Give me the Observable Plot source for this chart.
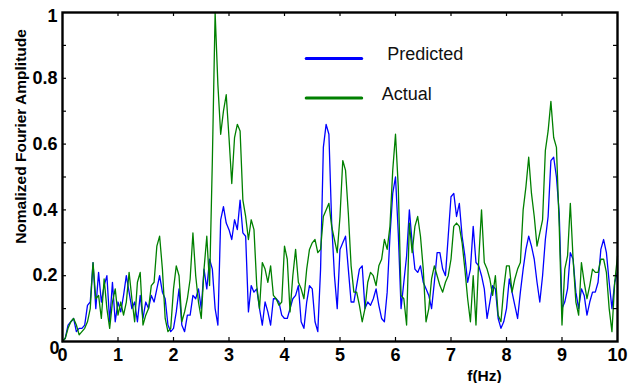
<!DOCTYPE html>
<html>
<head>
<meta charset="utf-8">
<script src="https://cdn.jsdelivr.net/npm/d3@7"></script>
<script src="https://cdn.jsdelivr.net/npm/@observablehq/plot@0.6"></script>
<style>
  html, body { margin: 0; padding: 0; background: #fff; }
  #chart { width: 629px; height: 383px; }
</style>
</head>
<body>
<div id="chart"></div>
<script>
// Frequency sampling step (Hz) and series
const step = 0.05;

const predicted = [
  0.00, 0.01, 0.05, 0.06, 0.07, 0.03, 0.04, 0.04, 0.05, 0.11,
  0.12, 0.24, 0.10, 0.21, 0.12, 0.17, 0.20, 0.06, 0.18, 0.06,
  0.12, 0.09, 0.14, 0.20, 0.15, 0.10, 0.12, 0.06, 0.14, 0.07,
  0.12, 0.10, 0.14, 0.12, 0.16, 0.20, 0.15, 0.13, 0.05, 0.03,
  0.04, 0.09, 0.16, 0.05, 0.03, 0.08, 0.08, 0.14, 0.13, 0.16,
  0.10, 0.22, 0.16, 0.25, 0.22, 0.10, 0.05, 0.37, 0.41, 0.36,
  0.34, 0.31, 0.37, 0.34, 0.43, 0.33, 0.32, 0.09, 0.17, 0.15,
  0.16, 0.10, 0.05, 0.12, 0.09, 0.05, 0.13, 0.13, 0.12, 0.08,
  0.07, 0.07, 0.10, 0.13, 0.14, 0.17, 0.06, 0.04, 0.12, 0.17,
  0.16, 0.06, 0.03, 0.22, 0.59, 0.66, 0.63, 0.36, 0.20, 0.10,
  0.28, 0.30, 0.32, 0.22, 0.12, 0.12, 0.17, 0.22, 0.23, 0.10,
  0.12, 0.11, 0.13, 0.16, 0.11, 0.07, 0.06, 0.15, 0.32, 0.45,
  0.50, 0.33, 0.10, 0.18, 0.26, 0.40, 0.30, 0.22, 0.21, 0.23,
  0.18, 0.16, 0.14, 0.10, 0.18, 0.27, 0.27, 0.22, 0.20, 0.32,
  0.44, 0.45, 0.38, 0.42, 0.32, 0.26, 0.18, 0.22, 0.35, 0.24,
  0.23, 0.20, 0.16, 0.07, 0.12, 0.17, 0.16, 0.07, 0.04, 0.06,
  0.10, 0.19, 0.15, 0.11, 0.07, 0.15, 0.22, 0.28, 0.32, 0.29,
  0.25, 0.18, 0.12, 0.20, 0.31, 0.38, 0.55, 0.56, 0.50, 0.39,
  0.10, 0.12, 0.16, 0.27, 0.25, 0.15, 0.10, 0.16, 0.14, 0.08,
  0.12, 0.15, 0.15, 0.18, 0.28, 0.31, 0.27, 0.18, 0.10, 0.18,
  0.21
];

const actual = [
  0.00, 0.01, 0.04, 0.06, 0.07, 0.05, 0.02, 0.03, 0.04, 0.06,
  0.10, 0.24, 0.13, 0.14, 0.07, 0.19, 0.10, 0.04, 0.12, 0.16,
  0.08, 0.12, 0.08, 0.12, 0.21, 0.13, 0.06, 0.18, 0.21, 0.05,
  0.08, 0.10, 0.17, 0.18, 0.29, 0.32, 0.22, 0.07, 0.03, 0.04,
  0.16, 0.23, 0.20, 0.06, 0.09, 0.13, 0.19, 0.33, 0.20, 0.12,
  0.07, 0.22, 0.32, 0.17, 0.55, 1.00, 0.78, 0.63, 0.70, 0.75,
  0.62, 0.48, 0.62, 0.66, 0.64, 0.43, 0.38, 0.31, 0.37, 0.34,
  0.17, 0.10, 0.24, 0.22, 0.18, 0.23, 0.14, 0.13, 0.11, 0.12,
  0.29, 0.25, 0.09, 0.20, 0.28, 0.18, 0.16, 0.13, 0.22, 0.28,
  0.30, 0.31, 0.27, 0.28, 0.38, 0.40, 0.42, 0.35, 0.31, 0.27,
  0.38, 0.55, 0.52, 0.39, 0.23, 0.15, 0.15, 0.11, 0.06, 0.10,
  0.18, 0.21, 0.20, 0.17, 0.23, 0.25, 0.31, 0.28, 0.35, 0.52,
  0.63, 0.47, 0.14, 0.13, 0.05, 0.36, 0.27, 0.35, 0.38, 0.32,
  0.22, 0.06, 0.10, 0.19, 0.23, 0.20, 0.17, 0.15, 0.18, 0.20,
  0.25, 0.35, 0.36, 0.35, 0.30, 0.22, 0.13, 0.06, 0.20, 0.05,
  0.25, 0.40, 0.24, 0.22, 0.19, 0.14, 0.20, 0.08, 0.06, 0.16,
  0.23, 0.23, 0.15, 0.19, 0.22, 0.24, 0.40, 0.47, 0.56, 0.45,
  0.38, 0.29, 0.33, 0.37, 0.58, 0.64, 0.73, 0.62, 0.59, 0.35,
  0.05, 0.22, 0.26, 0.42, 0.25, 0.12, 0.08, 0.24, 0.18, 0.13,
  0.17, 0.22, 0.21, 0.21, 0.25, 0.25, 0.21, 0.10, 0.03, 0.18,
  0.26
];

const xTickLabels = [0, 1, 2, 3, 4, 5, 6, 7, 8, 9, 10];
const xInnerTicks = [1, 2, 3, 4, 5, 6, 7, 8, 9];
const yTickLabels = [0.2, 0.4, 0.6, 0.8];
const yMinorTicks = [0.1, 0.2, 0.3, 0.4, 0.5, 0.6, 0.7, 0.8, 0.9];
const seriesNames = ["Predicted", "Actual"];
const seriesColors = ["#0000ff", "#008000"];

const predRows = predicted.map((v, i) => ({f: +(i * step).toFixed(2), v}));
const actRows = actual.map((v, i) => ({f: +(i * step).toFixed(2), v}));

const font = "Arial, 'Liberation Sans', sans-serif";
const tx = 4 / 55.5;   // inward tick length in x units
const ty = 4 / 329;    // inward tick length in y units

const legendRows = [
  {name: seriesNames[0], color: seriesColors[0], x1: 4.4, x2: 5.4, y: 0.86, tx: 5.85, ty: 0.872},
  {name: seriesNames[1], color: seriesColors[1], x1: 4.4, x2: 5.4, y: 0.74, tx: 5.75, ty: 0.752}
];

const chart = Plot.plot({
  width: 629,
  height: 383,
  marginLeft: 62,
  marginRight: 12,
  marginTop: 12,
  marginBottom: 42,
  style: {fontFamily: font, background: "#fff", overflow: "visible"},
  x: {domain: [0, 10]},
  y: {domain: [0, 1]},
  marks: [
    Plot.line(predRows, {x: "f", y: "v", stroke: seriesColors[0], strokeWidth: 1.3}),
    Plot.line(actRows, {x: "f", y: "v", stroke: seriesColors[1], strokeWidth: 1.3}),
    // inward ticks
    Plot.ruleX(xInnerTicks, {x: d => d, y1: 0, y2: ty, stroke: "black", strokeWidth: 1.2}),
    Plot.ruleX(xInnerTicks, {x: d => d, y1: 1, y2: 1 - ty, stroke: "black", strokeWidth: 1.2}),
    Plot.ruleY(yMinorTicks, {y: d => d, x1: 0, x2: tx, stroke: "black", strokeWidth: 1.2}),
    Plot.ruleY(yMinorTicks, {y: d => d, x1: 10, x2: 10 - tx, stroke: "black", strokeWidth: 1.2}),
    Plot.frame({stroke: "black", strokeWidth: 2.4}),
    // tick labels
    Plot.axisX({ticks: xTickLabels, tickSize: 0, tickPadding: 7, label: null,
      tickFormat: d => String(d), fontSize: 18, fontWeight: "bold", fill: "#000"}),
    Plot.axisY({ticks: yTickLabels, tickSize: 0, tickPadding: 5, label: null,
      tickFormat: d => String(d), fontSize: 18, fontWeight: "bold", fill: "#000"}),
    Plot.axisY({ticks: [1], tickSize: 0, tickPadding: 5, dy: 4, label: null,
      tickFormat: d => String(d), fontSize: 18, fontWeight: "bold", fill: "#000"}),
    Plot.axisY({ticks: [0], tickSize: 0, tickPadding: 3, dy: 7, label: null,
      tickFormat: d => String(d), fontSize: 18, fontWeight: "bold", fill: "#000"}),
    // axis titles
    Plot.text(["f(Hz)"], {frameAnchor: "bottom", dx: 144.5, dy: 35, text: d => d,
      fontSize: 15.5, fontWeight: "bold", fill: "#000", textAnchor: "middle", lineAnchor: "middle"}),
    Plot.text(["Nomalized Fourier Amplitude"], {frameAnchor: "left", dx: -41.5, dy: -40.5, rotate: -90,
      text: d => d, fontSize: 15.5, fontWeight: "bold", fill: "#000", textAnchor: "middle", lineAnchor: "middle"}),
    // legend
    Plot.ruleY(legendRows, {y: "y", x1: "x1", x2: "x2", stroke: "color", strokeWidth: 3, strokeLinecap: "round"}),
    Plot.text(legendRows, {x: "tx", y: "ty", text: "name", textAnchor: "start", fontSize: 18, fill: "#111", lineAnchor: "middle"})
  ]
});

document.getElementById("chart").appendChild(chart);
</script>
</body>
</html>
